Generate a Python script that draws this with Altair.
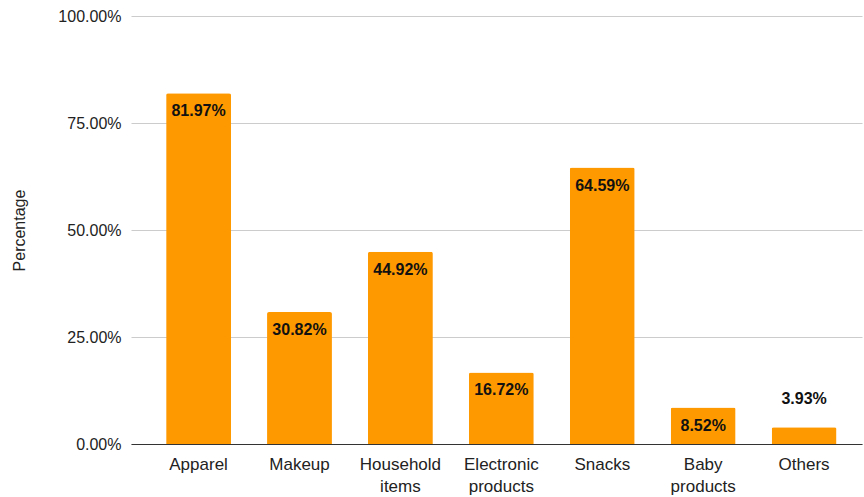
import altair as alt
import pandas as pd

categories = ["Apparel", "Makeup", "Household items", "Electronic products", "Snacks", "Baby products", "Others"]
values = [0.8197, 0.3082, 0.4492, 0.1672, 0.6459, 0.0852, 0.0393]
y_ticks = [0, 0.25, 0.5, 0.75, 1.0]

df = pd.DataFrame({"category": categories, "value": values})

FONT = "Liberation Sans"

x = alt.X(
    "category:N",
    sort=categories,
    title=None,
    scale=alt.Scale(paddingInner=0.357, paddingOuter=0.3, align=0.58),
    axis=alt.Axis(
        labelAngle=0,
        labelExpr="split(datum.label, ' ')",
        labelFont=FONT,
        labelFontSize=17,
        labelColor="#222222",
        labelPadding=12,
        labelLineHeight=22,
        ticks=False,
        grid=False,
        domainColor="#333333",
        domainWidth=1,
    ),
)

y = alt.Y(
    "value:Q",
    title="Percentage",
    scale=alt.Scale(domain=[0, 1], nice=False),
    axis=alt.Axis(
        values=y_ticks,
        format=".2%",
        labelFont=FONT,
        labelFontSize=16,
        labelColor="#222222",
        labelPadding=10,
        ticks=False,
        domain=False,
        gridColor="#cccccc",
        titleFont=FONT,
        titleFontSize=16,
        titleFontWeight="normal",
        titleColor="#222222",
        titlePadding=30,
    ),
)

base = alt.Chart(df)

bars = base.mark_bar(
    color="#FF9900", cornerRadiusTopLeft=2, cornerRadiusTopRight=2
).encode(x=x, y=y)

inside = base.transform_filter("datum.value >= 0.06").mark_text(
    font=FONT, fontSize=16, fontWeight="bold", color="#111111",
    baseline="top", dy=10
).encode(x=x, y=y, text=alt.Text("value:Q", format=".2%"))

outside = base.transform_filter("datum.value < 0.06").mark_text(
    font=FONT, fontSize=16, fontWeight="bold", color="#111111",
    baseline="bottom", dy=-20
).encode(x=x, y=y, text=alt.Text("value:Q", format=".2%"))

chart = (
    alt.layer(bars, inside, outside)
    .properties(
        width=731,
        height=428,
        background="white",
        autosize=alt.AutoSizeParams(type="none"),
        padding={"left": 131, "top": 16, "right": 2, "bottom": 53},
    )
    .configure_view(strokeWidth=0, stroke="transparent")
)

chart.save("out.html", embed_options={"renderer": "svg", "actions": False})
